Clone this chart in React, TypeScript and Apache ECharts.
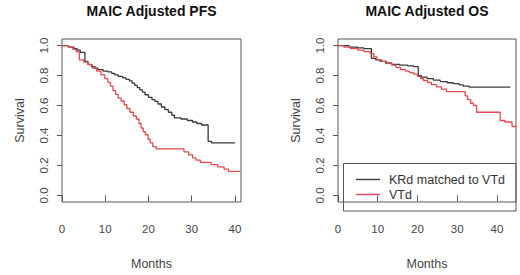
import React, { useEffect, useRef } from "react";
import * as echarts from "echarts";

// ---- Data ----
const xTicks = [0, 10, 20, 30, 40];
const yTicks = [0, 0.2, 0.4, 0.6, 0.8, 1.0];
const seriesNames = ["KRd matched to VTd", "VTd"];
const panelTitles = ["MAIC Adjusted PFS", "MAIC Adjusted OS"];

// PFS – KRd matched to VTd
const pfsKrdTime = [0, 1.5, 2.8, 3.5, 4.2, 5.3, 6.0, 6.8, 7.6, 8.3, 9.5, 10.6, 11.5, 12.2, 13.0, 14.0, 14.8, 15.6, 16.2, 16.8, 17.4, 18.0, 18.6, 19.2, 20.0, 20.8, 21.5, 22.2, 23.0, 23.8, 24.6, 25.4, 26.0, 27.5, 29.0, 30.2, 31.2, 32.3, 33.8, 34.6, 40.0];
const pfsKrdSurv = [1.0, 0.99, 0.98, 0.97, 0.955, 0.895, 0.875, 0.86, 0.85, 0.84, 0.83, 0.824, 0.815, 0.805, 0.795, 0.785, 0.775, 0.765, 0.75, 0.735, 0.72, 0.705, 0.69, 0.672, 0.655, 0.64, 0.628, 0.61, 0.59, 0.572, 0.555, 0.535, 0.518, 0.51, 0.5, 0.49, 0.48, 0.47, 0.36, 0.35, 0.35];

// PFS – VTd
const pfsVtdTime = [0, 1.5, 2.5, 3.3, 4.0, 5.0, 6.0, 7.0, 8.0, 9.0, 9.9, 10.6, 11.2, 11.8, 12.4, 13.0, 13.7, 14.4, 15.0, 15.7, 16.5, 17.2, 17.8, 18.3, 18.8, 19.3, 19.9, 20.4, 21.0, 21.8, 28.2, 29.3, 30.2, 31.0, 32.0, 34.5, 36.0, 37.5, 38.5, 41.3];
const pfsVtdSurv = [1.0, 0.99, 0.975, 0.958, 0.905, 0.89, 0.873, 0.85, 0.83, 0.805, 0.78, 0.755, 0.73, 0.7, 0.675, 0.65, 0.63, 0.605, 0.58, 0.555, 0.53, 0.51, 0.48, 0.45, 0.425, 0.405, 0.375, 0.35, 0.325, 0.31, 0.29, 0.27, 0.25, 0.235, 0.22, 0.205, 0.19, 0.175, 0.16, 0.16];

// OS – KRd matched to VTd
const osKrdTime = [0, 2.8, 5.0, 6.5, 8.4, 9.5, 10.6, 12.0, 13.5, 15.5, 17.5, 19.0, 20.2, 21.0, 22.4, 24.0, 25.7, 27.5, 29.0, 30.5, 31.5, 33.0, 43.4];
const osKrdSurv = [1.0, 0.99, 0.985, 0.98, 0.915, 0.905, 0.894, 0.883, 0.875, 0.87, 0.865, 0.86, 0.8, 0.79, 0.78, 0.77, 0.76, 0.752, 0.746, 0.738, 0.73, 0.723, 0.723];

// OS – VTd
const osVtdTime = [0, 1.5, 3.1, 5.0, 6.5, 8.1, 9.0, 9.8, 11.0, 12.3, 13.5, 14.6, 15.7, 17.0, 18.0, 19.0, 20.0, 20.8, 21.5, 22.5, 23.5, 24.8, 26.0, 27.3, 32.0, 32.6, 33.4, 34.1, 34.9, 40.8, 42.0, 43.8, 45.0];
const osVtdSurv = [1.0, 0.99, 0.98, 0.97, 0.96, 0.947, 0.925, 0.905, 0.895, 0.884, 0.87, 0.855, 0.84, 0.83, 0.82, 0.81, 0.795, 0.78, 0.767, 0.755, 0.74, 0.725, 0.71, 0.693, 0.665, 0.64, 0.615, 0.6, 0.555, 0.5, 0.49, 0.46, 0.46];

const xMax = [41.4, 44.8];

const FONT = "'Liberation Sans', Arial, sans-serif";
const BLACK = "#3a3a3a";
const RED = "#e34a4f";
const AXIS = "#555555";
const TEXT = "#444444";

const pairs = (t: number[], s: number[]) => t.map((v, i) => [v, s[i]]);

export default function App() {
  const ref = useRef<HTMLDivElement>(null);
  useEffect(() => {
    if (!ref.current) return;
    const chart = echarts.init(ref.current, undefined, { renderer: "svg" });

    const grids = [
      { left: 62, top: 39, width: 179, height: 172 },
      { left: 338, top: 39, width: 178, height: 172 },
    ];

    const xAxis = grids.map((_, i) => ({
      type: "value",
      gridIndex: i,
      min: 0,
      max: xMax[i],
      name: "Months",
      nameLocation: "middle",
      nameGap: 55,
      nameTextStyle: { fontFamily: FONT, fontSize: 12.5, color: TEXT },
      axisLine: { show: false },
      axisTick: { show: true, inside: false, length: 6, customValues: xTicks, lineStyle: { color: AXIS } },
      axisLabel: {
        customValues: xTicks,
        margin: 21,
        fontFamily: FONT,
        fontSize: 11.5,
        color: TEXT,
        formatter: (v: number) => String(v),
      },
      splitLine: { show: false },
    }));

    const yAxis = grids.map((_, i) => ({
      type: "value",
      gridIndex: i,
      min: -0.044,
      max: 1.044,
      name: "Survival",
      nameLocation: "middle",
      nameGap: 36,
      nameRotate: 90,
      nameTextStyle: { fontFamily: FONT, fontSize: 12.5, color: TEXT },
      axisLine: { show: false },
      axisTick: { show: true, inside: false, length: 5, customValues: yTicks, lineStyle: { color: AXIS } },
      axisLabel: {
        customValues: yTicks,
        rotate: 90,
        margin: 12,
        fontFamily: FONT,
        fontSize: 11.5,
        color: TEXT,
        formatter: (v: number) => v.toFixed(1),
      },
      splitLine: { show: false },
    }));

    const mk = (name: string, color: string, idx: number, data: number[][]) => ({
      type: "line",
      name,
      xAxisIndex: idx,
      yAxisIndex: idx,
      step: "end",
      symbol: "none",
      clip: true,
      lineStyle: { color, width: 1.3 },
      itemStyle: { color },
      data,
    });

    chart.setOption({
      animation: false,
      backgroundColor: "#ffffff",
      grid: grids.map((g) => ({ ...g, show: true, borderColor: AXIS, borderWidth: 1, backgroundColor: "transparent" })),
      xAxis,
      yAxis,
      legend: {
        orient: "vertical",
        left: 356,
        top: 172,
        icon: "rect",
        itemWidth: 24,
        itemHeight: 1.4,
        itemGap: 0,
        padding: 0,
        textStyle: { fontFamily: FONT, fontSize: 12.5, color: "#333", lineHeight: 15, padding: [0, 0, 0, 4] },
        data: seriesNames,
      },
      graphic: [
        {
          type: "rect",
          shape: { x: 343.5, y: 163.5, width: 172.5, height: 47.5 },
          style: { fill: "transparent", stroke: AXIS, lineWidth: 1 },
          z: 10,
        },
        {
          type: "text",
          x: 151.5,
          y: 11,
          style: { text: panelTitles[0], align: "center", verticalAlign: "middle", font: `bold 14px ${FONT}`, fill: "#111" },
        },
        {
          type: "text",
          x: 427,
          y: 11,
          style: { text: panelTitles[1], align: "center", verticalAlign: "middle", font: `bold 14px ${FONT}`, fill: "#111" },
        },
      ],
      series: [
        mk(seriesNames[0], BLACK, 0, pairs(pfsKrdTime, pfsKrdSurv)),
        mk(seriesNames[1], RED, 0, pairs(pfsVtdTime, pfsVtdSurv)),
        mk(seriesNames[0], BLACK, 1, pairs(osKrdTime, osKrdSurv)),
        mk(seriesNames[1], RED, 1, pairs(osVtdTime, osVtdSurv)),
      ],
    });

    return () => chart.dispose();
  }, []);

  return (
    <div
      ref={ref}
      style={{ position: "fixed", left: 0, top: 0, width: 520, height: 275, background: "#fff" }}
    />
  );
}
